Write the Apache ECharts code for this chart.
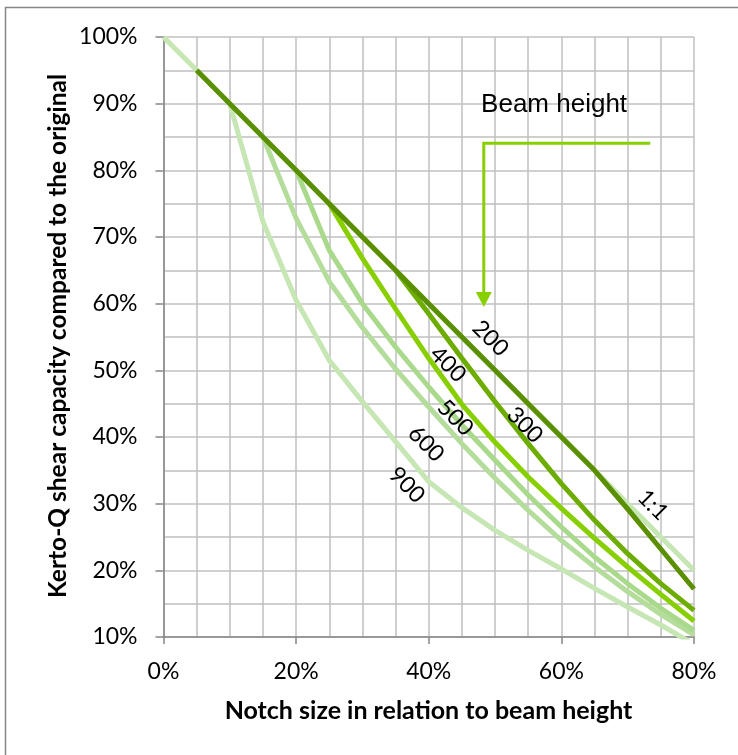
<!DOCTYPE html>
<html>
<head>
<meta charset="utf-8">
<script src="https://cdn.jsdelivr.net/npm/echarts@6/dist/echarts.min.js"></script>
<style>
html,body{margin:0;padding:0;background:#fff;}
#chart{width:738px;height:755px;}
</style>
</head>
<body>
<div id="chart"></div>
<script>
// Notch size in relation to beam height (%)
const notch = [0, 5, 10, 15, 20, 25, 30, 35, 40, 45, 50, 55, 60, 65, 70, 75, 80];
// Kerto-Q shear capacity compared to the original (%)
const oneToOne = [100, 95, 90, 85, 80, 75, 70, 65, 60, 55, 50, 45, 40, 35, 30, 25, 20];
const h200 = [null, 95, 90, 85, 80, 75, 70, 65, 60, 55, 50, 45, 40, 35, 29.2, 23.2, 17.2];
const h300 = [null, null, null, null, null, null, null, 65, 58.5, 51.8, 45.3, 39, 33, 27.5, 22.5, 18, 14];
const h400 = [null, null, null, null, null, 75, 66.8, 59.2, 51.8, 44.9, 39.2, 34, 29.3, 24.8, 20.5, 16.4, 12.4];
const h500 = [null, null, null, null, 80, 68, 60, 53.5, 47.5, 41.8, 36.5, 31.3, 26.5, 22, 18, 14.3, 11];
const h600 = [null, null, null, 85, 72.8, 63.3, 56.4, 50.2, 44.5, 39, 33.8, 29, 24.5, 20.5, 16.8, 13.4, 10.3];
const h900 = [null, null, 90, 72.3, 60.5, 51.5, 45.3, 39.3, 33.3, 29.4, 26, 23, 20.2, 17.3, 14.5, 11.8, 8.9];

const seriesNames = ['1:1', '900', '600', '500', '400', '300', '200'];
const seriesValues = [oneToOne, h900, h600, h500, h400, h300, h200];
const seriesColors = ['#c6e6b3', '#c6e6b3', '#b4dd9c', '#a9d98b', '#88cf00', '#6cad00', '#5a8f00'];

// curve labels: [text, notch %, capacity %]
const curveLabels = [
  ['200', 49.3, 54.8],
  ['300', 54.5, 41.8],
  ['400', 42.9, 50.9],
  ['500', 44.0, 42.9],
  ['600', 39.6, 39.0],
  ['900', 36.7, 32.8],
  ['1:1', 73.8, 29.8]
];

const chart = echarts.init(document.getElementById('chart'), null, {renderer: 'canvas'});
const tickFont = 'Lato, "Open Sans", sans-serif';

const series = seriesNames.map((n, k) => ({
  name: n,
  type: 'line',
  data: notch.map((x, i) => [x, seriesValues[k][i]]),
  showSymbol: false,
  symbol: 'none',
  clip: true,
  lineStyle: {color: seriesColors[k], width: 5, cap: 'butt', join: 'round'},
  itemStyle: {color: seriesColors[k]},
  z: 2 + k
}));

chart.setOption({
  animation: false,
  backgroundColor: '#ffffff',
  grid: {left: 163.5, top: 37, right: 44, bottom: 118, containLabel: false},
  xAxis: {
    type: 'value', min: 0, max: 80, interval: 20,
    axisLine: {show: true, lineStyle: {color: '#868686', width: 1.5}},
    axisTick: {show: true, length: 7, lineStyle: {color: '#868686', width: 1.5}},
    axisLabel: {formatter: v => v + '%', fontFamily: tickFont, fontSize: 23, color: '#000', margin: 23},
    splitLine: {show: true, lineStyle: {color: '#c0c0c0', width: 1.5}},
    minorTick: {show: true, splitNumber: 4, length: 0},
    minorSplitLine: {show: true, lineStyle: {color: '#c0c0c0', width: 1.5}}
  },
  yAxis: {
    type: 'value', min: 10, max: 100, interval: 10,
    axisLine: {show: true, lineStyle: {color: '#868686', width: 1.5}},
    axisTick: {show: true, length: 8, lineStyle: {color: '#868686', width: 1.5}},
    axisLabel: {formatter: v => v + '%', fontFamily: tickFont, fontSize: 23, color: '#000', margin: 26},
    splitLine: {show: true, lineStyle: {color: '#c0c0c0', width: 1.5}},
    minorTick: {show: true, splitNumber: 2, length: 0},
    minorSplitLine: {show: true, lineStyle: {color: '#c0c0c0', width: 1.5}}
  },
  series: series
});

function px(x, y) { return chart.convertToPixel({gridIndex: 0}, [x, y]); }

const graphics = [];
// outer chart border
graphics.push({type: 'rect', shape: {x: 5.5, y: 7.5, width: 900, height: 900},
  style: {fill: null, stroke: '#868686', lineWidth: 1.5}, z: 0, silent: true});
// axis titles
graphics.push({type: 'text', x: 428.5, y: 711, z: 20,
  style: {text: 'Notch size in relation to beam height', font: 'bold 25px ' + tickFont,
    fill: '#000', align: 'center', verticalAlign: 'middle'}});
graphics.push({type: 'text', x: 58, y: 336, rotation: Math.PI / 2, z: 20,
  style: {text: 'Kerto-Q shear capacity compared to the original', font: 'bold 24.5px ' + tickFont,
    fill: '#000', align: 'center', verticalAlign: 'middle'}});
// "Beam height" note with arrow
const bh = px(58.9, 89.9);
graphics.push({type: 'text', x: bh[0], y: bh[1], z: 20,
  style: {text: 'Beam height', font: '26px "Liberation Sans", Arial, sans-serif',
    fill: '#000', align: 'center', verticalAlign: 'middle'}});
const a0 = px(73.4, 84.05), a1 = px(48.3, 84.05), a2 = px(48.3, 59.5);
graphics.push({type: 'polyline', z: 20, shape: {points: [a0, a1, [a1[0], a2[1] - 14]]},
  style: {stroke: '#88cf00', lineWidth: 3, fill: null}});
graphics.push({type: 'polygon', z: 20,
  shape: {points: [[a2[0] - 8, a2[1] - 15], [a2[0] + 8, a2[1] - 15], [a2[0], a2[1]]]},
  style: {fill: '#88cf00'}});
// curve labels
curveLabels.forEach(l => {
  const p = px(l[1], l[2]);
  graphics.push({type: 'text', x: p[0], y: p[1], rotation: -Math.PI / 4, z: 20,
    style: {text: l[0], font: '23px ' + tickFont, fill: '#000', align: 'center', verticalAlign: 'middle'}});
});
chart.setOption({graphic: graphics});
</script>
</body>
</html>
